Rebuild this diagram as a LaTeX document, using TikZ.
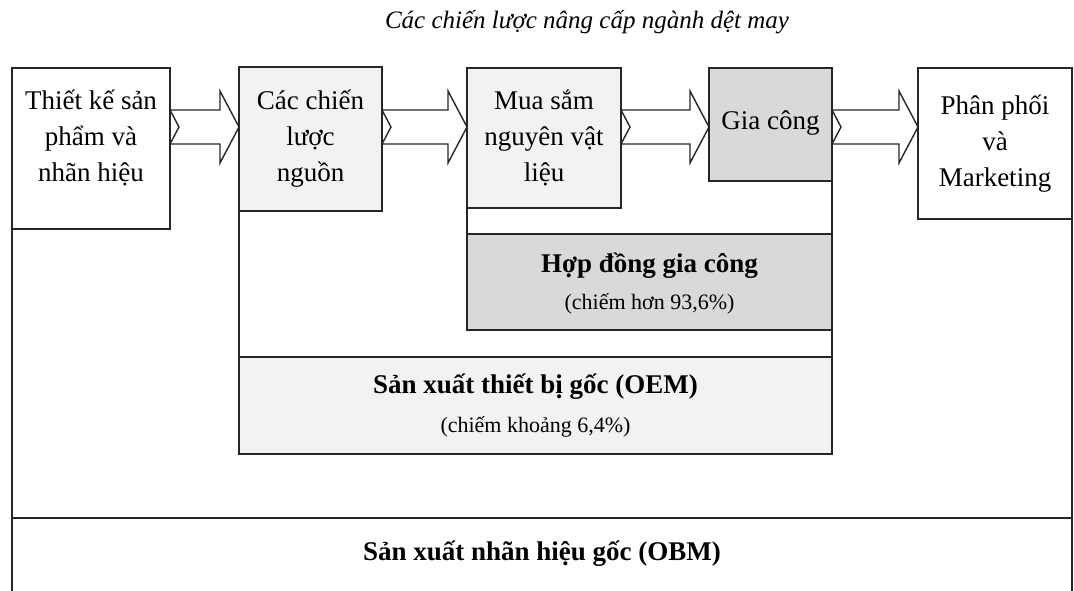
\documentclass[tikz,border=0pt]{standalone}
\usepackage{fontspec}
\setmainfont{Liberation Serif}
\usetikzlibrary{calc}
\usetikzlibrary{backgrounds}

\begin{document}
\begin{tikzpicture}[x=1pt,y=-1pt,
    box/.style={draw=black!85, line width=1.6pt, outer sep=0pt, anchor=north west, align=center, inner sep=2pt, font=\fontsize{27}{36}\selectfont},
    light/.style={fill=black!5},
    dark/.style={fill=black!15},
    frame/.style={draw=black!85, line width=1.6pt},
    blockarrow/.style={draw=black!85, line width=1.4pt, fill=white, line join=miter}]
    \useasboundingbox (0,0) rectangle (1074,590);

    \node[font=\itshape\fontsize{25}{28}\selectfont] (title) at (587,22) {Các chiến lược nâng cấp ngành dệt may};

    % chain of activities
    \node[box, minimum width=158pt, minimum height=161pt] (design) at (12,68) {Thiết kế sản\\phẩm và\\nhãn hiệu\\[-11pt]\mbox{}};
    \node[box, light, minimum width=143pt, minimum height=144pt] (source) at (239,67) {Các chiến\\lược\\nguồn};
    \node[box, light, minimum width=154pt, minimum height=140pt] (material) at (467,68) {Mua sắm\\nguyên vật\\liệu};
    \node[box, dark, minimum width=123pt, minimum height=113pt] (cmt) at (709,68) {Gia công\\[-28pt]\mbox{}};
    \node[box, minimum width=154pt, minimum height=151pt] (market) at (918,68) {Phân phối\\và\\Marketing};

    \node[box, dark, minimum width=365pt, minimum height=96pt] (cmtdeal) at (467,234) {\textbf{Hợp đồng gia công}\\[1pt]{\fontsize{22}{26}\selectfont (chiếm hơn 93,6\%)}\\[-34pt]\mbox{}};
    \node[box, light, minimum width=593pt, minimum height=97pt] (oem) at (239,357) {\textbf{Sản xuất thiết bị gốc (OEM)}\\[3pt]{\fontsize{22}{26}\selectfont (chiếm khoảng 6,4\%)}};
    \node[box, draw=none, minimum width=1060pt, minimum height=72pt] (obm) at (12,518) {\textbf{Sản xuất nhãn hiệu gốc (OBM)}};

    \draw[frame] (design.south west) -- ([yshift=-20pt]obm.south west);
    \draw[frame] (market.south east) -- ([yshift=-20pt]obm.south east);
    \draw[frame] (obm.north west) -- (obm.north east);
    \draw[frame] (source.south west) -- (oem.north west);
    \draw[frame] (cmtdeal.south east) -- (oem.north east);
    \draw[frame] (material.south west) -- (cmtdeal.north west);
    \draw[frame] (cmt.south east) -- (cmtdeal.north east);

    \coordinate (axis) at (0,127);
    \begin{scope}[on background layer]
        \foreach \a/\b in {design/source, source/material, material/cmt, cmt/market}{
            \draw[blockarrow] ($(\a.east |- axis)+(0,-17)$) -- ($(\b.west |- axis)+(-19,-17)$) -- ($(\b.west |- axis)+(-19,-36)$) -- (\b.west |- axis)
                -- ($(\b.west |- axis)+(-19,36)$) -- ($(\b.west |- axis)+(-19,17)$) -- ($(\a.east |- axis)+(0,17)$) -- ($(\a.east |- axis)+(9,0)$) -- cycle;
        }
    \end{scope}
\end{tikzpicture}
\end{document}
